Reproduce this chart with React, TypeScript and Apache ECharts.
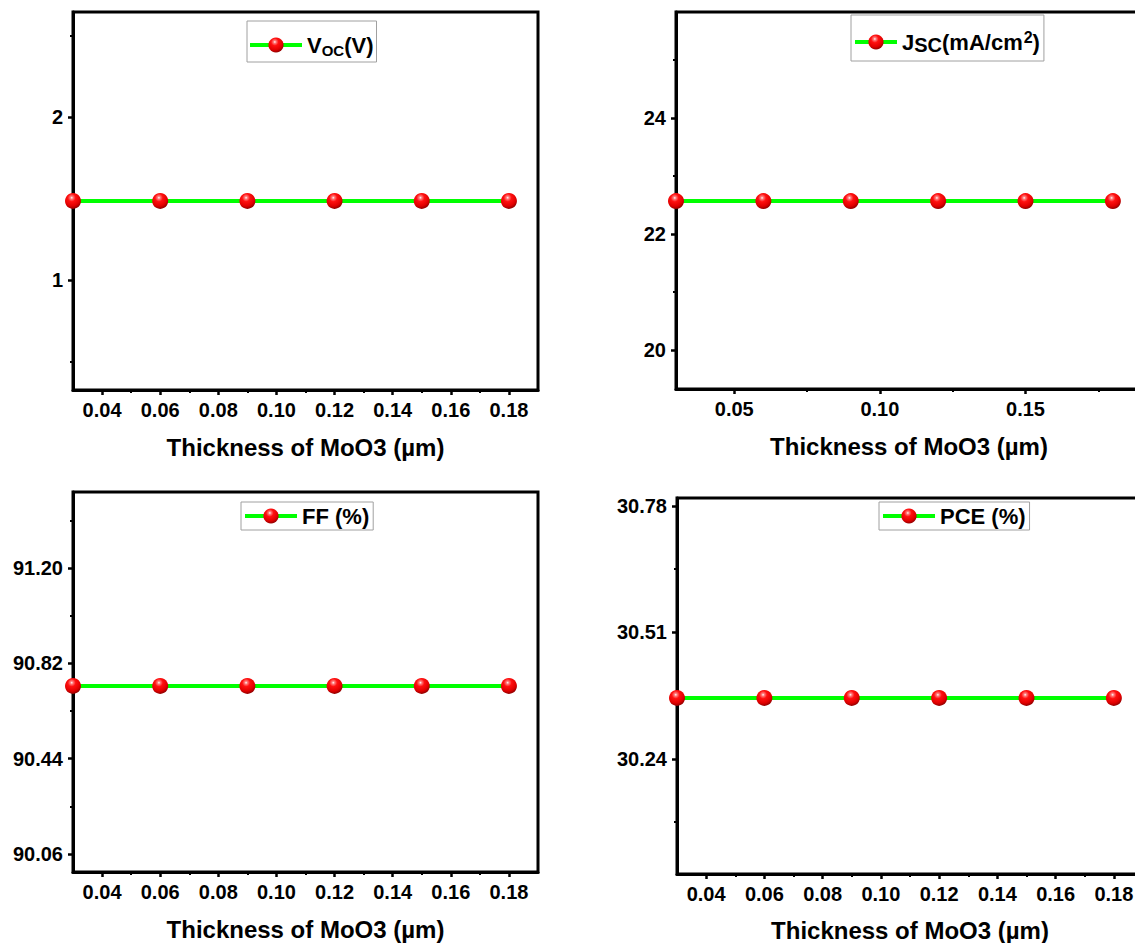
import React, { useEffect, useRef } from "react";
import * as echarts from "echarts";

// ---------------- data ----------------
const thickness = [0.03, 0.06, 0.09, 0.12, 0.15, 0.18];
const vocValues = [1.485, 1.485, 1.485, 1.485, 1.485, 1.485];
const jscValues = [22.57, 22.57, 22.57, 22.57, 22.57, 22.57];
const ffValues = [90.73, 90.73, 90.73, 90.73, 90.73, 90.73];
const pceValues = [30.37, 30.37, 30.37, 30.37, 30.37, 30.37];

const xTicksA = [0.04, 0.06, 0.08, 0.1, 0.12, 0.14, 0.16, 0.18];
const xMinorA = [0.05, 0.07, 0.09, 0.11, 0.13, 0.15, 0.17];
const xTicksB = [0.05, 0.1, 0.15];
const xMinorB = [0.075, 0.125, 0.175];

const vocTicks = [1, 2];
const vocMinor = [0.5, 1.5, 2.5];
const jscTicks = [20, 22, 24];
const jscMinor = [21, 23, 25];
const ffTicks = [90.06, 90.44, 90.82, 91.2];
const ffMinor = [90.25, 90.63, 91.01, 91.39];
const pceTicks = [30.24, 30.51, 30.78];
const pceMinor = [30.105, 30.375, 30.645];

const xTitle = "Thickness of MoO3 (µm)";

// ---------------- styling / layout ----------------
const FONT = '"Liberation Sans", Arial, Helvetica, sans-serif';

const panels = [
  {
    name: "Voc(V)",
    values: vocValues,
    yTicks: vocTicks,
    yMinor: vocMinor,
    yMin: 0.325,
    yMax: 2.644,
    yDec: 0,
    xTicks: xTicksA,
    xMinor: xMinorA,
    xMin: 0.03,
    xMax: 0.19,
    grid: { left: 73, top: 12, width: 465, height: 378 },
    labelMargin: 10,
    nameGap: 45,
    legend: { left: 247, top: 21, itemWidth: 52, padding: [4, 3, 4, 1] },
    legendText: "{m|V}{s|OC}{m|(V)}",
  },
  {
    name: "Jsc(mA/cm2)",
    values: jscValues,
    yTicks: jscTicks,
    yMinor: jscMinor,
    yMin: 19.33,
    yMax: 25.83,
    yDec: 0,
    xTicks: xTicksB,
    xMinor: xMinorB,
    xMin: 0.03,
    xMax: 0.19,
    grid: { left: 676, top: 12, width: 466, height: 377 },
    labelMargin: 10,
    nameGap: 45,
    legend: { left: 851, top: 15, itemWidth: 42, padding: [6, 4, 6, 2] },
    legendText: "{m|J}{t|SC}{m|(mA/cm}{p|2}{m|)}",
  },
  {
    name: "FF (%)",
    values: ffValues,
    yTicks: ffTicks,
    yMinor: ffMinor,
    yMin: 89.988,
    yMax: 91.503,
    yDec: 2,
    xTicks: xTicksA,
    xMinor: xMinorA,
    xMin: 0.03,
    xMax: 0.19,
    grid: { left: 73, top: 492, width: 465, height: 380 },
    labelMargin: 10,
    nameGap: 45,
    legend: { left: 241, top: 502, itemWidth: 52, padding: [3, 4, 3, 2] },
    legendText: "{m|FF (%)}",
  },
  {
    name: "PCE (%)",
    values: pceValues,
    yTicks: pceTicks,
    yMinor: pceMinor,
    yMin: 29.994,
    yMax: 30.797,
    yDec: 2,
    xTicks: xTicksA,
    xMinor: xMinorA,
    xMin: 0.03,
    xMax: 0.19,
    grid: { left: 677, top: 498, width: 466, height: 379 },
    labelMargin: 10,
    nameGap: 44,
    legend: { left: 879, top: 502, itemWidth: 52, padding: [3, 4, 3, 2] },
    legendText: "{m|PCE (%)}",
  },
];

const ballColor = () =>
  new echarts.graphic.RadialGradient(0.42, 0.3, 0.7, [
    { offset: 0, color: "#ffffff" },
    { offset: 0.12, color: "#ff8080" },
    { offset: 0.35, color: "#ff1010" },
    { offset: 0.75, color: "#e00000" },
    { offset: 1, color: "#900000" },
  ]);

const richStyles = {
  m: { fontSize: 22, fontWeight: "bold", fontFamily: FONT, color: "#000", lineHeight: 26, verticalAlign: "middle" },
  s: { fontSize: 15, fontWeight: "bold", fontFamily: FONT, color: "#000", lineHeight: 15, verticalAlign: "bottom", padding: [18, 0, 0, 0] },
  t: { fontSize: 20, fontWeight: "bold", fontFamily: FONT, color: "#000", lineHeight: 20, verticalAlign: "bottom", padding: [14, 0, 0, 0] },
  p: { fontSize: 16, fontWeight: "bold", fontFamily: FONT, color: "#000", lineHeight: 16, verticalAlign: "top", padding: [0, 0, 0, 1] },
};

function buildOption() {
  const grid: any[] = [];
  const xAxis: any[] = [];
  const yAxis: any[] = [];
  const series: any[] = [];
  const legend: any[] = [];

  panels.forEach((p) => {
    grid.push({
      ...p.grid,
      show: true,
      borderColor: "#000",
      borderWidth: 3,
      backgroundColor: "transparent",
    });
  });

  // main axes (0..3)
  panels.forEach((p, i) => {
    xAxis.push({
      type: "value",
      gridIndex: i,
      min: p.xMin,
      max: p.xMax,
      position: "bottom",
      axisLine: { show: true, onZero: false, lineStyle: { color: "#000", width: 3 } },
      axisTick: { show: true, inside: false, length: 5, lineStyle: { color: "#000", width: 2.5 }, customValues: p.xTicks },
      axisLabel: {
        customValues: p.xTicks,
        formatter: (v: number) => v.toFixed(2),
        margin: p.labelMargin,
        fontSize: 20,
        fontWeight: "bold",
        fontFamily: FONT,
        color: "#000",
      },
      splitLine: { show: false },
      name: xTitle,
      nameLocation: "middle",
      nameGap: p.nameGap,
      nameTextStyle: { fontSize: 24, fontWeight: "bold", fontFamily: FONT, color: "#000" },
    });
    yAxis.push({
      type: "value",
      gridIndex: i,
      min: p.yMin,
      max: p.yMax,
      position: "left",
      axisLine: { show: true, onZero: false, lineStyle: { color: "#000", width: 3 } },
      axisTick: { show: true, inside: false, length: 5, lineStyle: { color: "#000", width: 2.5 }, customValues: p.yTicks },
      axisLabel: {
        customValues: p.yTicks,
        formatter: (v: number) => v.toFixed(p.yDec),
        margin: 10,
        fontSize: 20,
        fontWeight: "bold",
        fontFamily: FONT,
        color: "#000",
      },
      splitLine: { show: false },
    });
  });

  // minor-tick axes (4..7)
  panels.forEach((p, i) => {
    xAxis.push({
      type: "value",
      gridIndex: i,
      min: p.xMin,
      max: p.xMax,
      position: "bottom",
      offset: 0,
      axisLine: { show: false, onZero: false },
      axisTick: { show: true, inside: false, length: 3, lineStyle: { color: "#000", width: 2 }, customValues: p.xMinor },
      axisLabel: { show: false },
      splitLine: { show: false },
    });
    yAxis.push({
      type: "value",
      gridIndex: i,
      min: p.yMin,
      max: p.yMax,
      position: "left",
      offset: 0,
      axisLine: { show: false, onZero: false },
      axisTick: { show: true, inside: false, length: 3, lineStyle: { color: "#000", width: 2 }, customValues: p.yMinor },
      axisLabel: { show: false },
      splitLine: { show: false },
    });
  });

  panels.forEach((p, i) => {
    series.push({
      type: "line",
      name: p.name,
      xAxisIndex: i,
      yAxisIndex: i,
      data: thickness.map((x, k) => [x, p.values[k]]),
      symbol: "circle",
      symbolSize: 16,
      showAllSymbol: true,
      lineStyle: { color: "#00ff00", width: 4 },
      itemStyle: { color: ballColor(), borderWidth: 0 },
      z: 3,
    });
    legend.push({
      data: [p.name],
      left: p.legend.left,
      top: p.legend.top,
      orient: "horizontal",
      itemWidth: p.legend.itemWidth,
      itemHeight: 19,
      itemGap: 0,
      padding: p.legend.padding,
      borderColor: "#a0a0a0",
      borderWidth: 1,
      backgroundColor: "#fff",
      selectedMode: false,
      lineStyle: { width: 4, color: "#00ff00" },
      formatter: () => p.legendText,
      textStyle: { fontFamily: FONT, fontWeight: "bold", fontSize: 22, color: "#000", rich: richStyles },
    });
  });

  return {
    animation: false,
    backgroundColor: "#fff",
    textStyle: { fontFamily: FONT },
    grid,
    xAxis,
    yAxis,
    legend,
    series,
  };
}

export default function App() {
  const ref = useRef<HTMLDivElement>(null);
  useEffect(() => {
    if (!ref.current) return;
    const chart = echarts.init(ref.current, undefined, { renderer: "svg" });
    chart.setOption(buildOption() as any);
    return () => chart.dispose();
  }, []);
  return (
    <div
      ref={ref}
      style={{ position: "fixed", left: 0, top: 0, width: 1160, height: 943, background: "#fff" }}
    />
  );
}
